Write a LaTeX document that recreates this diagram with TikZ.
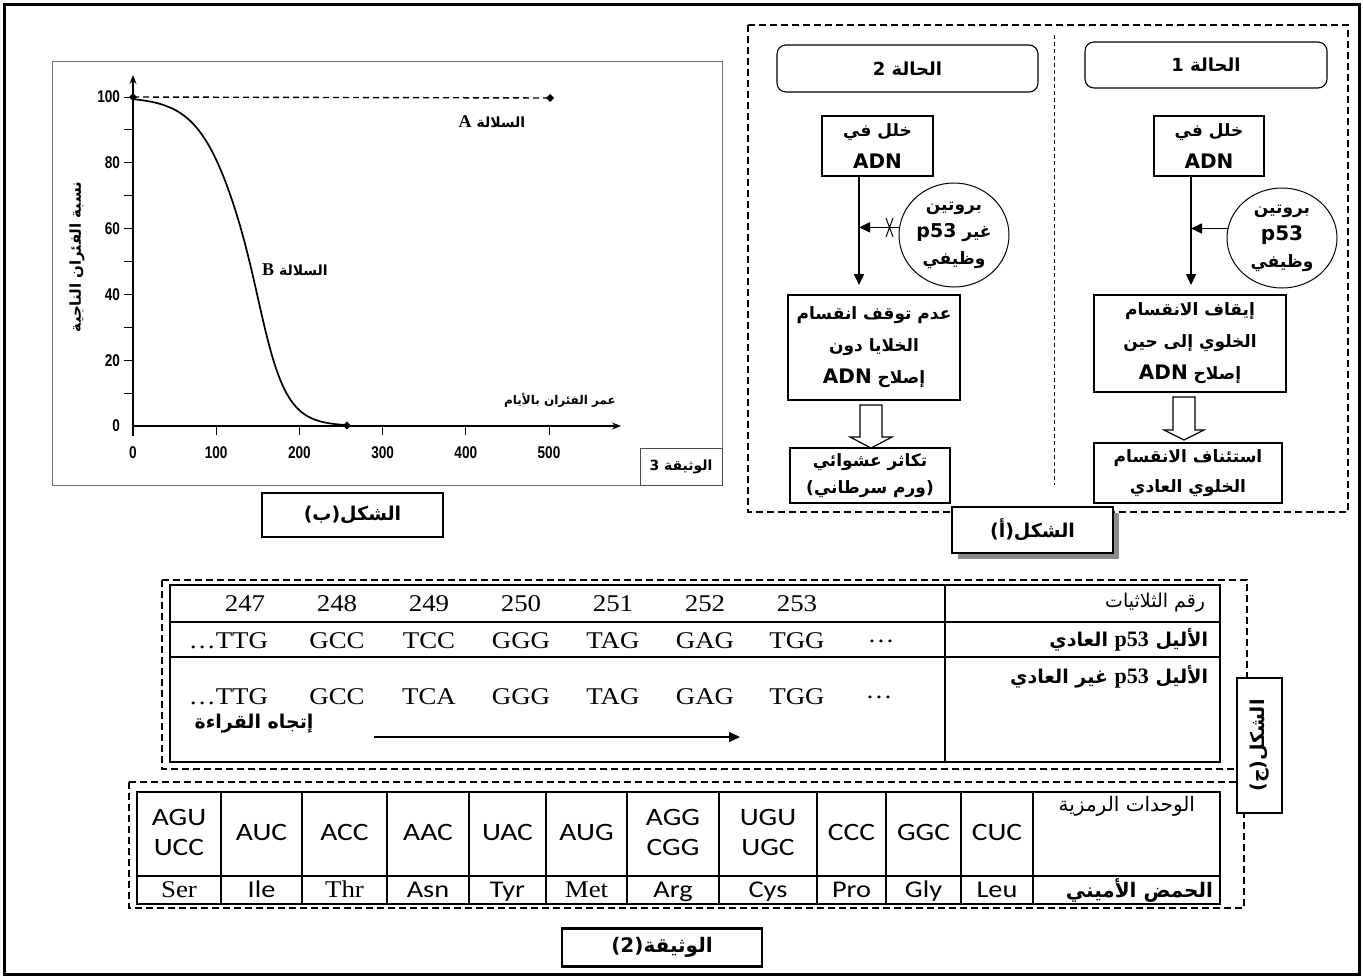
\documentclass[tikz,border=0pt]{standalone}
\usepackage{fontspec}
\setmainfont{Liberation Serif}
\newfontfamily\ar[Script=Arabic]{DejaVu Sans}
\newfontfamily\carl[FakeStretch=1.18]{Carlito}
\newfontfamily\seqf[FakeStretch=1.12]{Liberation Serif}
\newfontfamily\narrowf[FakeStretch=0.8]{Liberation Sans}
\newfontfamily\dvs{DejaVu Sans}
\TeXXeTstate=1
\usetikzlibrary{arrows.meta,shapes.geometric}
\newcommand\AR[1]{{\ar\beginR #1\endR}}
\newcommand\ARB[1]{{\ar\bfseries\beginR #1\endR}}
\newcommand\LR[1]{\beginL #1\endL}
\newcommand\fs[2]{\fontsize{#1}{#2}\selectfont}
\newcommand\adn{{\dvs\bfseries\fs{20}{20}ADN}}
\begin{document}
\begin{tikzpicture}[x=1pt,y=-1pt,
  every node/.style={inner sep=0pt, outer sep=0pt},
  box/.style={draw, line width=2.4pt, align=center},
  tri/.style={-{Triangle[length=11pt,width=10pt]}},
  dashframe/.style={dash pattern=on 7pt off 4pt, line width=1.1pt},
  finedash/.style={dash pattern=on 4pt off 3pt, line width=1pt},
  hollow/.style={line width=1.2pt, fill=white},
  flowtxt/.style={font=\fs{17}{32}},
  dmark/.style={diamond, fill=black, minimum size=8pt},
  seq/.style={font={\seqf\fs{24}{26}}},
  codon/.style={font={\carl\fs{25}{30}}, align=center},
  amino/.style={font={\carl\fs{24}{24}}, anchor=base},
  tick/.style={font={\narrowf\bfseries\fs{17}{18}}},
  hdr/.style={font=\fs{19}{21}, anchor=east}]
\useasboundingbox (0,0) rectangle (1363,978);
\fill[white] (0,0) rectangle (1363,978);
\draw[line width=3pt] (4,4) rectangle (1359,974);

% ---------------- graph (figure b)
\draw[black!55, line width=1pt] (52,61) rectangle (722,485);
\node[draw=black!70, line width=0.8pt, minimum width=82, minimum height=37, font=\fs{14}{15}] (doc3) at (681,466.5) {\ARB{الوثيقة 3}};
\draw[line width=1.3pt, -{Stealth[length=9pt,width=7pt]}] (133,436) -- (133,75);
\draw[line width=1.3pt, -{Stealth[length=9pt,width=7pt]}] (133,426) -- (621,426);
\foreach \p in {10,20,...,100} \draw[line width=1pt] (124,{426-\p*3.29}) -- (133,{426-\p*3.29});
\foreach \p [count=\i] in {0,20,40,60,80,100} \node[tick, anchor=east] (yl\i) at (120,{426-\p*3.29}) {\p};
\foreach \d in {100,200,...,500} \draw[line width=1pt] ({133+\d*0.832},426) -- ({133+\d*0.832},435);
\foreach \d [count=\i] in {0,100,200,300,400,500} \node[tick] (xl\i) at ({133+\d*0.832},453) {\d};
\draw[line width=1.4pt, dash pattern=on 6pt off 4pt] (133,97) -- (550,98);
\draw[line width=1.7pt] plot[domain=0:257, samples=90, smooth] ({133+\x*0.832}, {426-3.29*100/(1+exp((\x-140)/(24-4*tanh((\x-140)/25))))});
\node[dmark] (mA0) at (133,97) {};
\node[dmark] (mA1) at (550,98) {};
\node[dmark] (mB1) at (346.8,425.5) {};
\node[font=\fs{14}{16}] (lA) at (492,122) {\ARB{السلالة {\rmfamily\bfseries\fs{18}{18}A}}};
\node[font=\fs{14}{16}] (lB) at (295,270) {\ARB{السلالة {\rmfamily\bfseries\fs{18}{18}B}}};
\node[font=\fs{12}{15}] (xlab) at (560,400) {\ARB{عمر الفئران بالأيام}};
\node[rotate=90, font=\fs{15}{17}] (ylab) at (77,257) {\ARB{نسبة الفئران الناجية}};
\node[box, minimum width=181, minimum height=44, font=\fs{19}{22}] (figb) at (352.5,515) {\ARB{الشكل\LR{(ب)}}};

% ---------------- figure a
\draw[dashframe] (748,25) rectangle (1348,512);
\draw[finedash] (1054,35) -- (1054,485);
\node[draw, rounded corners=9pt, line width=1.1pt, minimum width=261, minimum height=47, font=\fs{18}{20}] (t2) at (907.5,68.5) {\ARB{الحالة 2}};
\node[draw, rounded corners=9pt, line width=1.1pt, minimum width=242, minimum height=46, font=\fs{18}{20}] (t1) at (1206,65) {\ARB{الحالة 1}};
% case 2
\coordinate (c2x) at (859,0);
\node[box, flowtxt, minimum width=111, minimum height=60] (c2a) at (877.5,146) {\ARB{خلل في}\\\adn};
\node[draw, ellipse, line width=1pt, minimum width=110, minimum height=104, align=center, font=\fs{17}{27}] (c2p) at (954,235) {\ARB{بروتين}\\\ARB{غير {\dvs\bfseries\fs{19}{19}p53}}\\\ARB{وظيفي}};
\node[box, flowtxt, minimum width=172, minimum height=105] (c2b) at (874,347.5) {\ARB{عدم توقف انقسام}\\\ARB{الخلايا دون}\\\ARB{إصلاح \adn}};
\node[box, font=\fs{17}{27}, minimum width=160, minimum height=55] (c2c) at (870,475.5) {\ARB{تكاثر عشوائي}\\\ARB{(ورم سرطاني)}};
\draw[line width=1.6pt, tri, shorten >=10pt] (c2x |- c2a.south) -- (c2x |- c2b.north);
\draw[line width=1.6pt, tri] (c2p.172) -- (c2x |- c2p.172);
\draw[line width=1pt] (886,218) -- (893,237) (893,218) -- (886,237);
\draw[hollow] (860,405) -- (882,405) -- (882,437) -- (892,437) -- (871,448) -- (850,437) -- (860,437) -- cycle;
% case 1
\coordinate (c1x) at (1191,0);
\node[box, flowtxt, minimum width=110, minimum height=60] (c1a) at (1209,146) {\ARB{خلل في}\\\adn};
\node[draw, ellipse, line width=1pt, minimum width=110, minimum height=100, align=center, font=\fs{17}{27}] (c1p) at (1282,238) {\ARB{بروتين}\\{\dvs\bfseries\fs{20}{20}p53}\\\ARB{وظيفي}};
\node[box, flowtxt, minimum width=192, minimum height=97] (c1b) at (1190,343.5) {\ARB{إيقاف الانقسام}\\\ARB{الخلوي إلى حين}\\\ARB{إصلاح \adn}};
\node[box, font=\fs{17}{30}, minimum width=188, minimum height=60] (c1c) at (1188,473) {\ARB{استئناف الانقسام}\\\ARB{الخلوي العادي}};
\draw[line width=1.6pt, tri, shorten >=10pt] (c1x |- c1a.south) -- (c1x |- c1b.north);
\draw[line width=1.6pt, tri] (c1p.170) -- (c1x |- c1p.170);
\draw[hollow] (1173,397) -- (1195,397) -- (1195,430) -- (1204,430) -- (1184,440) -- (1164,430) -- (1173,430) -- cycle;
\fill[black!45] (958,513) rectangle (1119,559);
\node[box, fill=white, minimum width=161, minimum height=46, font=\fs{19}{22}] (figa) at (1032.5,530) {\ARB{الشكل\LR{(أ)}}};

% ---------------- figure c (sequences)
\draw[dashframe] (162,580) rectangle (1247,769);
\draw[line width=2pt] (170,585) rectangle (1220,762);
\draw[line width=1.6pt] (170,622) -- (1220,622) (170,657) -- (1220,657) (945,585) -- (945,762);
\foreach \n [count=\i] in {247,248,249,250,251,252,253}
  \node[seq] (num\i) at ({245+92*(\i-1)},604) {\n};
\node[seq, anchor=east] (r1a) at (268,641) {\dots TTG};
\foreach \n [count=\i] in {GCC,TCC,GGG,TAG,GAG,TGG}
  \node[seq] (r1\i) at ({337+92*(\i-1)},641) {\n};
\node[seq] (r1e) at (881,641) {\dots};
\node[seq, anchor=east] (r2a) at (268,697) {\dots TTG};
\foreach \n [count=\i] in {GCC,TCA,GGG,TAG,GAG,TGG}
  \node[seq] (r2\i) at ({337+92*(\i-1)},697) {\n};
\node[seq] (r2e) at (879,697) {\dots};
\node[font=\fs{19}{20}] (dir) at (254,724) {\ARB{إتجاه القراءة}};
\coordinate (arA) at (374,737);
\coordinate (arB) at (740,737);
\draw[line width=1.4pt, tri] (arA) -- (arB);
\node[hdr] (h1) at (1205,603) {\AR{رقم الثلاثيات}};
\node[hdr] (h2) at (1208,640) {\ARB{الأليل {\rmfamily\bfseries\fs{22}{22}p53} العادي}};
\node[hdr] (h3) at (1208,677) {\ARB{الأليل {\rmfamily\bfseries\fs{22}{22}p53} غير العادي}};

% ---------------- codon table
\draw[dashframe] (129,782) rectangle (1244,908);
\draw[line width=2pt] (137,792) rectangle (1220,904);
\draw[line width=1.6pt] (137,876) -- (1220,876);
\foreach \x in {221,302,387,469,546,627,719,817,886,961,1033}
  \draw[line width=1.6pt] (\x,792) -- (\x,904);
\foreach \cx/\txt [count=\i] in {179/{AGU\\UCC},261.5/AUC,344.5/ACC,428/AAC,507.5/UAC,586.5/AUG,673/{AGG\\CGG},768/{UGU\\UGC},851.5/CCC,923.5/GGC,997/CUC}
  \node[codon] (cod\i) at (\cx,832) {\txt};
\foreach \cx/\txt [count=\i] in {179/{\seqf Ser},261.5/Ile,344.5/{\seqf Thr},428/Asn,507.5/Tyr,586.5/{\seqf Met},673/Arg,768/Cys,851.5/Pro,923.5/Gly,997/Leu}
  \node[amino] (am\i) at (\cx,897) {\txt};
\node[hdr, font=\fs{20}{22}] (h4) at (1195,806) {\AR{الوحدات الرمزية}};
\node[hdr, font=\fs{20}{22}] (h5) at (1213,890) {\ARB{الحمض الأميني}};

\node[box, fill=white, rotate=90, minimum width=135, minimum height=45, font=\fs{19}{22}] (figc) at (1259.5,745.5) {\ARB{الشكل\LR{(ج)}}};
\node[box, minimum width=200, minimum height=38, font=\fs{20}{22}] (doc2) at (662,947.5) {\ARB{الوثيقة\LR{(2)}}};
\end{tikzpicture}
\end{document}
